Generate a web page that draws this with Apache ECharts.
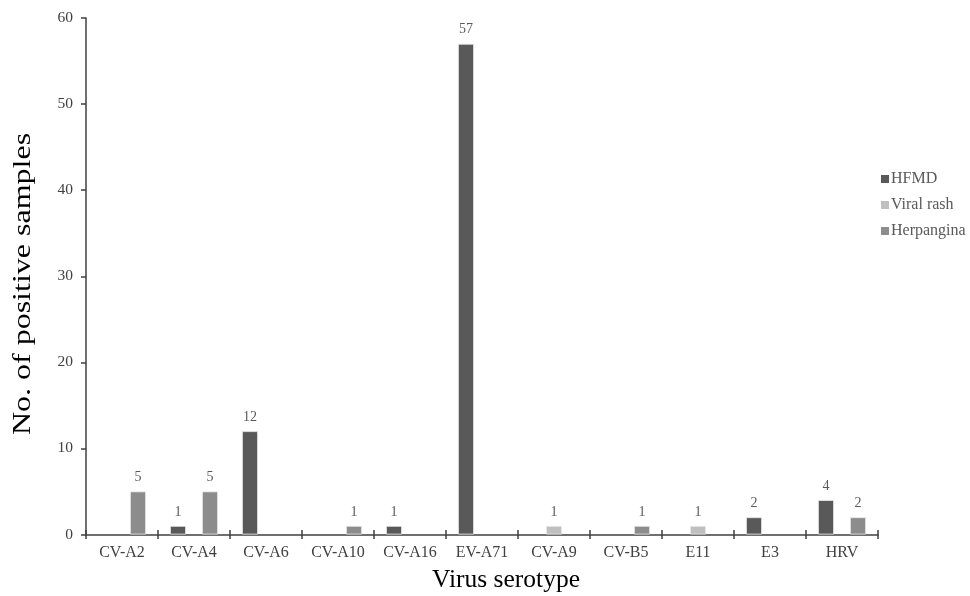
<!DOCTYPE html>
<html>
<head>
<meta charset="utf-8">
<script src="https://cdn.jsdelivr.net/npm/echarts@6/dist/echarts.min.js"></script>
<style>html,body{margin:0;padding:0;background:#fff;}#c{width:970px;height:596px;}</style>
</head>
<body>
<div id="c"></div>
<script>
const categories = ['CV-A2','CV-A4','CV-A6','CV-A10','CV-A16','EV-A71','CV-A9','CV-B5','E11','E3','HRV'];
const hfmd       = [null, 1, 12, null, 1, 57, null, null, null, 2, 4];
const viralRash  = [null, null, null, null, null, null, 1, null, 1, null, null];
const herpangina = [5, 5, null, 1, null, null, null, 1, null, null, 2];
const yTicks = [0, 10, 20, 30, 40, 50, 60];
const xTitle = 'Virus serotype';
const yTitle = 'No. of positive samples';

const FONT = '"Liberation Serif","Times New Roman",serif';
const chart = echarts.init(document.getElementById('c'), null, {renderer: 'canvas'});
const lbl = {show: true, position: 'top', distance: 7, color: '#595959', fontFamily: FONT, fontSize: 14};
function mk(name, data, color) {
  return {
    name, type: 'bar', data, barWidth: 16, barGap: '0%', xAxisIndex: 0,
    itemStyle: {color, borderColor: '#ececec', borderWidth: 0.8},
    label: lbl,
    emphasis: {disabled: true}
  };
}
chart.setOption({
  animation: false,
  textStyle: {fontFamily: FONT},
  grid: {left: 86, right: 92, top: 18, bottom: 61.5, containLabel: false},
  legend: {
    orient: 'vertical', left: 881, top: 171, padding: 0,
    itemWidth: 8, itemHeight: 8, itemGap: 10,
    icon: 'rect',
    itemStyle: {borderWidth: 0},
    textStyle: {color: '#595959', fontFamily: FONT, fontSize: 16, padding: [0, 0, 0, -3]},
    data: ['HFMD', 'Viral rash', 'Herpangina']
  },
  graphic: [
    {type: 'text', x: 506, y: 580,
     style: {text: xTitle, fill: '#000', font: '25.5px ' + FONT, textAlign: 'center', textVerticalAlign: 'middle'}},
    {type: 'text', x: 23, y: 284, rotation: Math.PI / 2, scaleX: 1.28,
     style: {text: yTitle, fill: '#000', font: '25px ' + FONT, textAlign: 'center', textVerticalAlign: 'middle'}}
  ],
  xAxis: [{
    type: 'category', data: categories, position: 'bottom',
    axisLine: {lineStyle: {color: '#404040', width: 1.5}},
    axisTick: {show: true, alignWithLabel: false, length: 4.5, inside: false, lineStyle: {color: '#404040', width: 1.5}},
    axisLabel: {color: '#404040', fontFamily: FONT, fontSize: 16, margin: 10}
  }, {
    type: 'category', data: categories, position: 'bottom', offset: 0,
    axisLine: {show: false},
    axisTick: {show: true, alignWithLabel: false, length: 4.5, inside: true, lineStyle: {color: '#404040', width: 1.5}},
    axisLabel: {show: false}
  }],
  yAxis: {
    type: 'value', min: 0, max: 60, interval: 10,
    axisLine: {show: true, lineStyle: {color: '#404040', width: 1.5}},
    axisTick: {show: true, length: 5, lineStyle: {color: '#404040', width: 1.5}},
    axisLabel: {color: '#404040', fontFamily: FONT, fontSize: 15.5, margin: 13,
      formatter: v => yTicks.includes(v) ? String(v) : ''},
    splitLine: {show: false}
  },
  series: [
    mk('HFMD', hfmd, '#595959'),
    mk('Viral rash', viralRash, '#bfbfbf'),
    mk('Herpangina', herpangina, '#8c8c8c')
  ]
});
</script>
</body>
</html>
